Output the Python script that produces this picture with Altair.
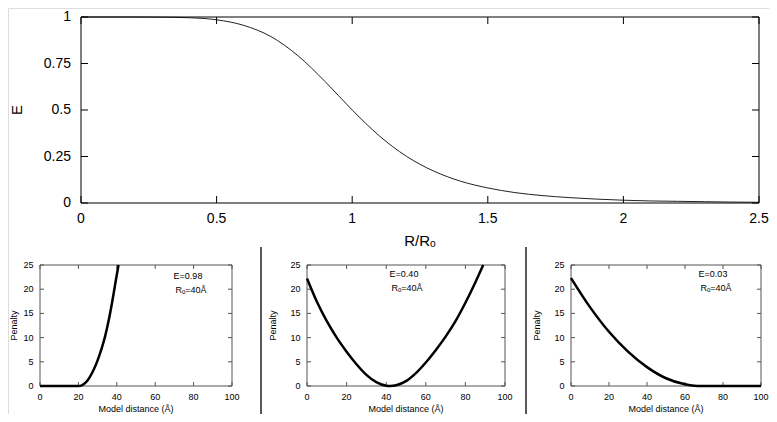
import altair as alt
import pandas as pd

# ---------------- data ----------------
# top panel: FRET efficiency vs R/Ro
r_ratio = [0.0, 0.1, 0.2, 0.3, 0.4, 0.5, 0.6, 0.7, 0.8, 0.9, 1.0, 1.1, 1.2,
           1.3, 1.4, 1.5, 1.6, 1.7, 1.8, 1.9, 2.0, 2.1, 2.2, 2.3, 2.4, 2.5]
efficiency = [1.0, 1.0, 1.0, 0.999, 0.996, 0.985, 0.955, 0.895, 0.792, 0.653,
              0.5, 0.361, 0.251, 0.172, 0.117, 0.081, 0.056, 0.040, 0.029,
              0.021, 0.015, 0.011, 0.009, 0.007, 0.005, 0.004]
top_x_ticks = [0, 0.5, 1, 1.5, 2, 2.5]
top_y_ticks = [0, 0.25, 0.5, 0.75, 1]
top_x_title = "R/Rₒ"
top_y_title = "E"

# bottom panels: penalty vs model distance
dist_a = [0, 10, 20, 22, 24, 26, 28, 30, 32, 34, 36, 38, 40, 40.9]
pen_a = [0, 0, 0, 0.2, 0.8, 1.9, 3.4, 5.3, 7.6, 10.4, 14.0, 18.3, 23.0, 25.0]

dist_b = [0, 5, 10, 15, 20, 25, 30, 35, 40, 42, 45, 50, 55, 60, 65, 70, 75,
          80, 85, 89]
pen_b = [22.2, 17.4, 13.4, 10.0, 7.1, 4.5, 2.3, 0.8, 0.06, 0.0, 0.14, 1.0,
         2.65, 4.85, 7.4, 10.2, 13.4, 17.2, 21.4, 25.0]

dist_c = [0, 10, 20, 30, 40, 50, 60, 65, 68, 80, 100]
pen_c = [22.3, 16.3, 11.2, 7.1, 3.9, 1.6, 0.35, 0.05, 0.0, 0.0, 0.0]

panel_e = ["0.98", "0.40", "0.03"]
r0_value = 40
bot_x_ticks = [0, 20, 40, 60, 80, 100]
bot_y_ticks = [0, 5, 10, 15, 20, 25]
bot_x_title = "Model distance (Å)"
bot_y_title = "Penalty"

FONT = "Liberation Sans"
W, H = 761, 406          # whole drawing area (page minus 8px margins)


def scale(domain, rng):
    return alt.Scale(domain=domain, range=rng, nice=False, zero=False)


def one():
    return pd.DataFrame({"z": [0]})


def static_text(text, x, y, size, angle=0, align="center"):
    kw = dict(fontSize=size, font=FONT, color="black", align=align, baseline="middle")
    if angle:
        kw["angle"] = angle
    return alt.Chart(pd.DataFrame({"t": [text]})).mark_text(**kw).encode(
        text="t:N", x=alt.value(x), y=alt.value(y))


def frame(x0, x1, y0, y1, color):
    return alt.Chart(one()).mark_rect(
        fillOpacity=0, stroke=color, strokeWidth=1
    ).encode(x=alt.value(x0), x2=alt.value(x1), y=alt.value(y0), y2=alt.value(y1))


layers = []

# ---------------- top panel ----------------
TX0, TX1, TY0, TY1 = 73, 751, 9, 195      # plot rectangle in view pixels
TT = 7                                      # inward tick length
xs_t = scale([0, 2.5], [TX0, TX1])
ys_t = scale([0, 1], [TY1, TY0])
df_top = pd.DataFrame({"r": r_ratio, "e": efficiency})
dfx_t = pd.DataFrame({"v": top_x_ticks})
dfy_t = pd.DataFrame({"v": top_y_ticks})

layers.append(alt.Chart(df_top).mark_line(
    color="#222222", strokeWidth=1, interpolate="monotone").encode(
    x=alt.X("r:Q", scale=xs_t, axis=None), y=alt.Y("e:Q", scale=ys_t, axis=None)))
layers.append(frame(TX0, TX1, TY0, TY1, "black"))
rs = dict(color="black", strokeWidth=1)
XT = alt.X("v:Q", scale=xs_t, axis=None)
YT = alt.Y("v:Q", scale=ys_t, axis=None)
layers += [
    alt.Chart(dfx_t).mark_rule(**rs).encode(x=XT, y=alt.value(TY1), y2=alt.value(TY1 - TT)),
    alt.Chart(dfx_t).mark_rule(**rs).encode(x=XT, y=alt.value(TY0), y2=alt.value(TY0 + TT)),
    alt.Chart(dfy_t).mark_rule(**rs).encode(y=YT, x=alt.value(TX0), x2=alt.value(TX0 + TT)),
    alt.Chart(dfy_t).mark_rule(**rs).encode(y=YT, x=alt.value(TX1), x2=alt.value(TX1 - TT)),
    alt.Chart(dfx_t).mark_text(fontSize=14, font=FONT, color="black",
                               align="center", baseline="middle").encode(
        x=XT, y=alt.value(TY1 + 16), text=alt.Text("v:Q", format=".1~f")),
    alt.Chart(dfy_t).mark_text(fontSize=14, font=FONT, color="black",
                               align="right", baseline="middle").encode(
        y=YT, x=alt.value(TX0 - 10), text=alt.Text("v:Q", format=".2~f")),
]
layers.append(static_text(top_x_title, (TX0 + TX1) / 2, TY1 + 38, 15))
layers.append(static_text(top_y_title, 9, (TY0 + TY1) / 2, 15, angle=270))

# ---------------- bottom panels ----------------
BY0, BY1 = 257, 378
BT = 4
FRAME = "#555555"
panels = [
    # x0, x1, data, e-label position, y-title x, separator x
    (32, 224, dist_a, pen_a, (180, BY0 + 11), 6, None),
    (299, 497, dist_b, pen_b, (396, BY0 + 9), 265, 253),
    (563, 753, dist_c, pen_c, (705, BY0 + 9), 529, 518),
]
ys_b = scale([0, 25], [BY1, BY0])
for i, (x0, x1, dist, pen, (lx, ly), ytx, sep) in enumerate(panels):
    xs_b = scale([0, 100], [x0, x1])
    XB = alt.X("v:Q", scale=xs_b, axis=None)
    YB = alt.Y("v:Q", scale=ys_b, axis=None)
    dfx = pd.DataFrame({"v": bot_x_ticks})
    dfy = pd.DataFrame({"v": bot_y_ticks})
    ts = dict(color=FRAME, strokeWidth=1)
    layers.append(frame(x0, x1, BY0, BY1, FRAME))
    layers += [
        alt.Chart(dfx).mark_rule(**ts).encode(x=XB, y=alt.value(BY1), y2=alt.value(BY1 - BT)),
        alt.Chart(dfx).mark_rule(**ts).encode(x=XB, y=alt.value(BY0), y2=alt.value(BY0 + BT)),
        alt.Chart(dfy).mark_rule(**ts).encode(y=YB, x=alt.value(x0), x2=alt.value(x0 + BT)),
        alt.Chart(dfy).mark_rule(**ts).encode(y=YB, x=alt.value(x1), x2=alt.value(x1 - BT)),
        alt.Chart(dfx).mark_text(fontSize=9, font=FONT, color="black",
                                 align="center", baseline="middle").encode(
            x=XB, y=alt.value(BY1 + 11), text="v:Q"),
        alt.Chart(dfy).mark_text(fontSize=9, font=FONT, color="black",
                                 align="right", baseline="middle").encode(
            y=YB, x=alt.value(x0 - 6.5), text="v:Q"),
    ]
    df = pd.DataFrame({"d": dist, "p": pen})
    layers.append(alt.Chart(df).mark_line(
        color="black", strokeWidth=2.5, interpolate="monotone").encode(
        x=alt.X("d:Q", scale=xs_b, axis=None), y=alt.Y("p:Q", scale=ys_b, axis=None)))
    layers.append(static_text(bot_x_title, (x0 + x1) / 2, BY1 + 23, 9))
    layers.append(static_text(bot_y_title, ytx, (BY0 + BY1) / 2, 9, angle=270))
    layers.append(static_text("E=" + panel_e[i], lx, ly, 9))
    layers.append(static_text("Rₒ=%dÅ" % r0_value, lx + 3, ly + 14, 9))
    if sep is not None:
        layers.append(alt.Chart(one()).mark_rule(color="#222222", strokeWidth=1.5).encode(
            x=alt.value(sep), y=alt.value(239), y2=alt.value(H)))

chart = alt.layer(*layers).resolve_scale(
    x="independent", y="independent"
).properties(
    width=W, height=H, padding=0,
    autosize=alt.AutoSizeParams(type="none"),
).configure_view(strokeWidth=0).configure(font=FONT)

chart.save("out.html", embed_options={"renderer": "svg", "actions": False})
